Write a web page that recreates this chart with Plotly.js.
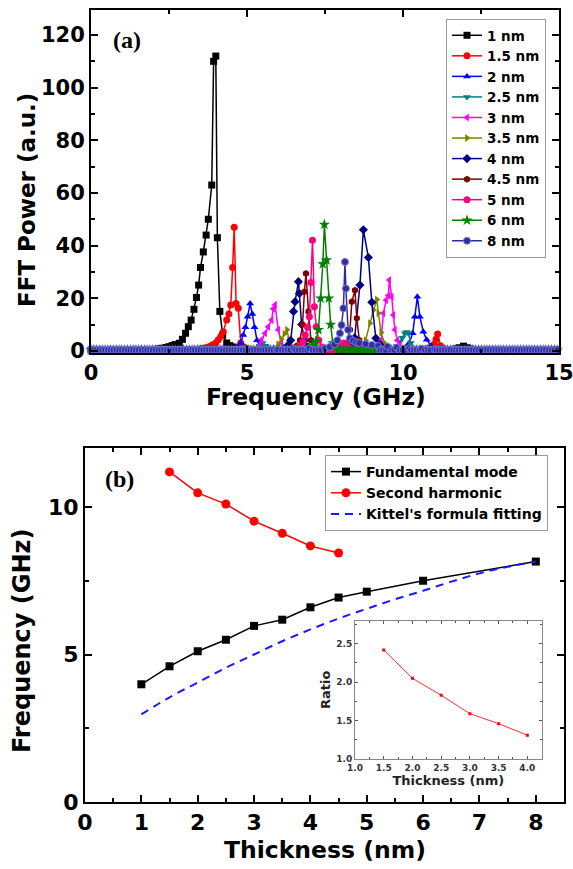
<!DOCTYPE html>
<html><head><meta charset="utf-8">
<script src="https://cdn.plot.ly/plotly-3.0.1.min.js"></script>
<style>html,body{margin:0;padding:0;background:#fff}#chart{width:573px;height:869px}</style>
</head><body><div id="chart"></div>
<script>
// ---------- Panel (a): FFT spectra ----------
const seriesNames = ['1 nm','1.5 nm','2 nm','2.5 nm','3 nm','3.5 nm','4 nm','4.5 nm','5 nm','6 nm','8 nm'];

const f_1nm = [2.2,2.3,2.4,2.5,2.6,2.7,2.83,2.93,3.03,3.12,3.21,3.30,3.38,3.45,3.51,3.60,3.69,3.76,3.87,3.93,4.0,4.05,4.13,4.22,4.35,4.45,4.55,4.7, 11.7,11.8,11.94,12.05,12.15];
const p_1nm = [0.8,1.0,1.3,1.6,2.0,2.4,2.9,4.4,6.7,9.2,11.7,15.8,20.3,25,31.7,37.6,44,50,63,110,112,43,15,6,3,2,1.5,1.0, 0.8,1.2,1.8,1.2,0.8];

const f_15nm = [3.5,3.6,3.7,3.8,3.9,4.0,4.08,4.16,4.24,4.35,4.42,4.48,4.54,4.59,4.65,4.72,4.8,4.9,5.0, 10.8,10.9,11.0,11.06,11.11,11.2,11.3];
const p_15nm = [0.8,1.0,1.3,1.7,2.3,3.0,4.2,5.5,7.3,11.7,14,17.4,31.7,47,18,16.2,3,1.5,1, 1,1.5,2.5,4.4,6.4,2,1];

const f_2nm = [4.6,4.7,4.8,4.88,4.95,5.02,5.1,5.17,5.24,5.32,5.4,5.5, 10.0,10.1,10.2,10.31,10.38,10.46,10.54,10.65,10.76,10.9,11.0];
const p_2nm = [1,1.5,3,6,9,13,18,14,9,4,2,1, 1,1.5,3,6.7,13,20.6,13,7.3,4.2,2,1];

const f_25nm = [5.3,5.4,5.5,5.6,5.7, 9.7,9.8,9.9,9.98,10.06,10.12,10.17,10.25,10.35];
const p_25nm = [1,2,3,2,1, 1,2,3.5,5,6.7,7.2,6.7,3,1.2];

const f_3nm = [5.3,5.4,5.47,5.58,5.68,5.79,5.84,5.9,6.0,6.1,6.2, 9.1,9.2,9.3,9.37,9.46,9.53,9.56,9.64,9.69,9.74,9.82,9.9,10.0];
const p_3nm = [1,2,4.2,6.7,9.2,11.7,16,17.5,8,3,1, 1,2,4,14.3,19.3,21,26.9,20.6,13.6,8,4,2,1];

const f_35nm = [5.9,6.0,6.1,6.2,6.28,6.35,6.45, 8.7,8.8,8.94,9.05,9.16,9.21,9.3,9.4,9.5];
const p_35nm = [1,2.5,4.5,6.5,8,4,1.5, 2,4,10.5,15.5,19.5,14.3,7,3,1.5];

const f_4nm = [6.2,6.3,6.4,6.49,6.54,6.65,6.68,6.75,6.85,6.95, 8.3,8.45,8.62,8.73,8.89,9.0,9.13,9.25,9.4];
const p_4nm = [1,2,4,15,18.7,26.3,21.8,10,4,1.5, 2,5,25,46,35.5,18.5,4.8,2.5,1];

const f_45nm = [6.5,6.6,6.7,6.78,6.84,6.89,6.97,7.05,7.15, 8.1,8.2,8.3,8.36,8.46,8.52,8.6,8.7];
const p_45nm = [1,2,4,10,22.5,29.4,15,4,1.5, 1.5,3,8,18.7,23,12.4,4,1.5];

const f_5nm = [6.6,6.7,6.8,6.87,6.94,7.0,7.05,7.1,7.16,7.22,7.3,7.4, 7.9,8.0,8.1,8.2,8.3];
const p_5nm = [1,2,3.5,6,9,13,26,42,16.8,9.2,4,1.5, 1,2,3,2,1];

const f_6nm = [7.0,7.1,7.2,7.29,7.36,7.43,7.48,7.55,7.62,7.68,7.75,7.85];
const p_6nm = [1,2,3.5,8,20,33,48,34.5,20,10,3,1.5];

const f_8nm = [6.0,6.5,7.0,7.5,7.65,7.8,7.9,7.98,8.03,8.09,8.14,8.17,8.24,8.3,8.4,8.5,8.6,8.8,9.0,9.2,9.5,9.8,10.2,10.6,11.0];
const p_8nm = [0.5,0.7,0.9,1,1.5,2.5,4,6.7,9.8,16.2,33.8,23.7,8,4.8,3.8,3.3,3.0,2.6,2.2,1.9,1.6,1.3,1.0,0.8,0.6];

// near-zero background level of every spectrum
const baseLevel = 0.35;
const gridStep = 0.09;

const freqLists = [f_1nm,f_15nm,f_2nm,f_25nm,f_3nm,f_35nm,f_4nm,f_45nm,f_5nm,f_6nm,f_8nm];
const powLists  = [p_1nm,p_15nm,p_2nm,p_25nm,p_3nm,p_35nm,p_4nm,p_45nm,p_5nm,p_6nm,p_8nm];

const colors  = ['#000000','#ff0000','#0000ff','#008080','#ff00ff','#808000','#000080','#800000','#ff0080','#008000','#2e2ea0'];
const symbols = ['square','circle','triangle-up','triangle-down','triangle-left','triangle-right','diamond','hexagon','circle','star','circle'];

function withBackground(fs, ps){
  const pts = fs.map((f,i)=>[f,ps[i]]);
  const gaps = [];
  for(let i=0;i<fs.length-1;i++){ if(fs[i+1]-fs[i]>0.3) gaps.push([fs[i],fs[i+1]]); }
  const lo = Math.min(...fs), hi = Math.max(...fs);
  for(let g=0; g<=15.0001; g+=gridStep){
    let add = (g < lo-0.05) || (g > hi+0.05);
    for(const [a,b] of gaps){ if(g>a+0.05 && g<b-0.05) add = true; }
    if(add) pts.push([g, baseLevel]);
  }
  pts.sort((a,b)=>a[0]-b[0]);
  return [pts.map(p=>p[0]), pts.map(p=>p[1])];
}

const traces = [];
seriesNames.forEach((name,i)=>{
  const [x,y] = withBackground(freqLists[i], powLists[i]);
  traces.push({
    type:'scatter', mode:'lines+markers', name:name, x:x, y:y,
    xaxis:'x', yaxis:'y', legend:'legend', cliponaxis:false,
    line:{color:colors[i], width:1.5},
    marker:{symbol:symbols[i], color:colors[i], size:(symbols[i]==='star'?8.5:7),
            line:{color: i===10 ? '#7a7ad6' : colors[i], width: i===10 ? 1 : 0}}
  });
});

// ---------- Panel (b): frequency vs thickness ----------
const thickFund = [1,1.5,2,2.5,3,3.5,4,4.5,5,6,8];
const freqFund  = [3.99,4.6,5.11,5.5,5.97,6.18,6.6,6.93,7.13,7.5,8.15];
const thickSec  = [1.5,2,2.5,3,3.5,4,4.5];
const freqSec   = [11.19,10.48,10.1,9.52,9.11,8.68,8.44];
const thickKit  = [1,1.5,2,2.5,3,3.5,4,4.5,5,5.5,6,6.5,7,7.5,8];
const freqKit   = [2.97,3.55,4.05,4.55,5.0,5.45,5.85,6.22,6.55,6.87,7.16,7.47,7.75,7.97,8.15];

traces.push({type:'scatter', mode:'lines+markers', name:'Fundamental mode', x:thickFund, y:freqFund,
  xaxis:'x2', yaxis:'y2', legend:'legend2', line:{color:'#000', width:1.5},
  marker:{symbol:'square', size:8, color:'#000'}});
traces.push({type:'scatter', mode:'lines+markers', name:'Second harmonic', x:thickSec, y:freqSec,
  xaxis:'x2', yaxis:'y2', legend:'legend2', line:{color:'#ff0000', width:1.5},
  marker:{symbol:'circle', size:9, color:'#ff0000'}});
traces.push({type:'scatter', mode:'lines', name:"Kittel's formula fitting", x:thickKit, y:freqKit,
  xaxis:'x2', yaxis:'y2', legend:'legend2', line:{color:'#1a1aff', width:2, dash:'8px,6px', shape:'spline'}});

// ---------- Inset: ratio ----------
const thickRatio = [1.5,2,2.5,3,3.5,4];
const ratioVals  = [2.42,2.05,1.83,1.59,1.46,1.31];
traces.push({type:'scatter', mode:'lines+markers', name:'Ratio', x:thickRatio, y:ratioVals,
  xaxis:'x3', yaxis:'y3', showlegend:false, line:{color:'#ff3030', width:1},
  marker:{symbol:'square', size:3, color:'#ff0000'}});

const W=573, H=869;
const px = v=>v/W, py = v=>1-v/H;
const F = 'DejaVu Sans, Arial, sans-serif';

function mainAxis(extra, fs){
  return Object.assign({
    showline:true, linecolor:'#000', linewidth:2, mirror:'allticks',
    ticks:'inside', ticklen:7, tickwidth:2, tickcolor:'#000', ticklabeloverflow:'allow',
    showgrid:false, zeroline:false, tickfont:{family:F, size:fs, color:'#000', weight:'bold'},
  }, extra);
}
function ann(text, x, y, size, angle, family){
  return {text:text, x:px(x), y:py(y), xref:'paper', yref:'paper', showarrow:false,
    xanchor:'center', yanchor:'middle', textangle:angle||0,
    font:{family:family||F, size:size, weight:'bold', color:'#000'}};
}

const layout = {
  width:W, height:H, margin:{l:0,r:0,t:0,b:0},
  paper_bgcolor:'#fff', plot_bgcolor:'rgba(0,0,0,0)', showlegend:true,
  xaxis: mainAxis({domain:[px(91),px(559)], range:[0,15], dtick:5, anchor:'y',
    minor:{dtick:2.5, ticklen:4, tickwidth:2, tickcolor:'#000', ticks:'inside'}}, 21),
  yaxis: mainAxis({domain:[1-353/H, 1-10/H], range:[-0.8,129.5], dtick:20, tick0:0, anchor:'x',
    minor:{dtick:10, ticklen:4, tickwidth:2, tickcolor:'#000', ticks:'inside'}}, 21),
  xaxis2: mainAxis({domain:[px(85),px(564)], range:[0,8.5], dtick:1, anchor:'y2',
    minor:{dtick:0.5, ticklen:4, tickwidth:2, tickcolor:'#000', ticks:'inside'}}, 22),
  yaxis2: mainAxis({domain:[1-802/H, 1-448/H], range:[0,12], dtick:5, anchor:'x2',
    minor:{dtick:2.5, ticklen:4, tickwidth:2, tickcolor:'#000', ticks:'inside'}}, 22),
  xaxis3: {domain:[px(355),px(541.7)], range:[1,4.25], dtick:0.5, tickformat:'.1f', anchor:'y3',
    showline:true, linecolor:'#888', linewidth:1, mirror:'allticks', ticks:'inside', ticklen:3, tickcolor:'#555',
    minor:{dtick:0.25, ticklen:2, tickcolor:'#555', ticks:'inside'},
    showgrid:false, zeroline:false, tickfont:{family:F, size:9, color:'#333', weight:'bold'},
    title:{text:'Thickness (nm)', font:{family:F, size:13, color:'#222', weight:'bold'}, standoff:4}},
  yaxis3: {domain:[1-759/H, 1-620.7/H], range:[1,2.8], dtick:0.5, tickformat:'.1f', anchor:'x3',
    showline:true, linecolor:'#888', linewidth:1, mirror:'allticks', ticks:'inside', ticklen:3, tickcolor:'#555',
    minor:{dtick:0.25, ticklen:2, tickcolor:'#555', ticks:'inside'},
    showgrid:false, zeroline:false, tickfont:{family:F, size:9, color:'#333', weight:'bold'},
    title:{text:'Ratio', font:{family:F, size:13, color:'#222', weight:'bold'}, standoff:2}},
  legend: {x:px(446), y:py(19), xanchor:'left', yanchor:'top', bgcolor:'#fff',
    bordercolor:'#999', borderwidth:1, font:{family:F, size:13.5, color:'#000', weight:'bold'},
    tracegroupgap:0},
  legend2: {x:px(325), y:py(455), xanchor:'left', yanchor:'top', bgcolor:'#fff',
    bordercolor:'#999', borderwidth:1, font:{family:F, size:14, color:'#000', weight:'bold'},
    tracegroupgap:0},
  shapes:[{type:'rect', xref:'paper', yref:'paper', x0:px(355), x1:px(541.7), y0:1-759/H, y1:1-620.7/H,
    fillcolor:'#fff', line:{width:0}, layer:'below'}],
  annotations:[
    ann('(a)', 127, 40, 24, 0, 'Liberation Serif, Times New Roman, serif'),
    ann('(b)', 119, 479, 24, 0, 'Liberation Serif, Times New Roman, serif'),
    ann('FFT Power (a.u.)', 27, 200, 23, -90),
    ann('Frequency (GHz)', 316, 397, 23.5, 0),
    ann('Frequency (GHz)', 22, 641, 24, -90),
    ann('Thickness (nm)', 325, 850, 23.5, 0)
  ]
};

Plotly.newPlot('chart', traces, layout, {staticPlot:true, displayModeBar:false});
</script></body></html>
